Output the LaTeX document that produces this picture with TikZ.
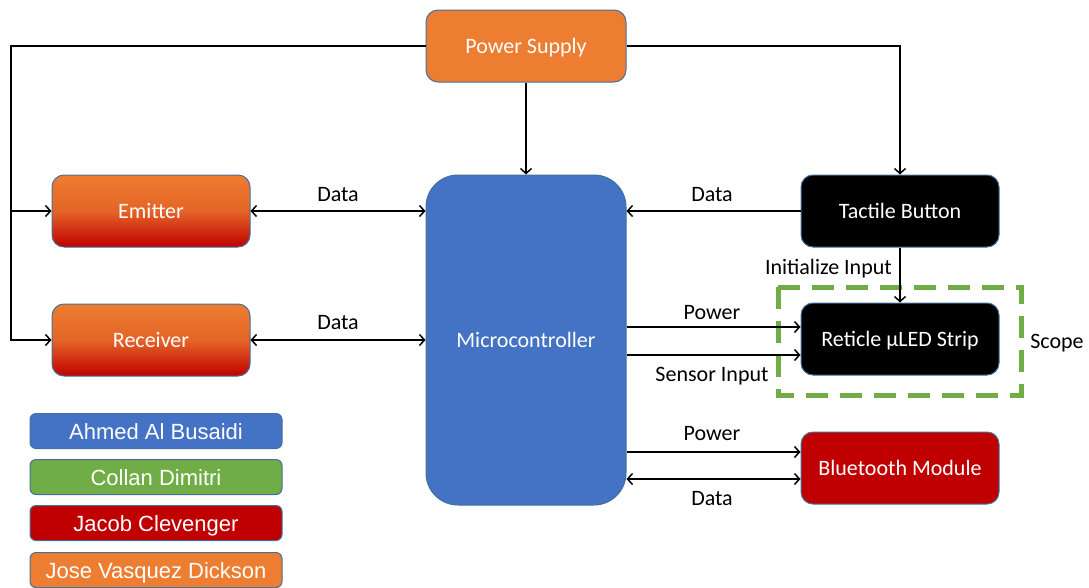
\documentclass[tikz,border=0pt]{standalone}
\usepackage{fontspec}
\setmainfont{Carlito}
\newfontfamily\arialf{Liberation Sans}
\usetikzlibrary{arrows.meta}
\definecolor{ppor}{HTML}{ED7D31}
\definecolor{ppbl}{HTML}{4472C4}
\definecolor{ppgr}{HTML}{70AD47}
\definecolor{pprd}{HTML}{C00000}
\definecolor{ppedge}{HTML}{41719C}
\tikzset{
  blk/.style={draw=ppedge, line width=1pt, rounded corners=12pt, minimum width=198pt, minimum height=72pt, text=white, font=\fontsize{22}{24}\selectfont, inner sep=0pt, text height=14pt, text depth=0pt},
  grad/.style={blk, top color=ppor, bottom color=pprd, middle color=ppor!80!pprd},
  legend/.style={draw=ppedge, line width=1pt, rounded corners=6pt, minimum width=252pt, minimum height=35pt, text=white, font=\arialf\fontsize{22}{24}\selectfont, inner sep=0pt, text height=16pt, text depth=0pt},
  conn/.style={line width=1.5pt, -{Straight Barb[length=5pt,width=11pt,line width=1.5pt]}},
  bconn/.style={line width=1.5pt, {Straight Barb[length=5pt,width=11pt,line width=1.5pt]}-{Straight Barb[length=5pt,width=11pt,line width=1.5pt]}},
  lbl/.style={font=\fontsize{22}{24}\selectfont, text=black, inner sep=0pt, text height=14pt, text depth=0pt}
}
\begin{document}
\begin{tikzpicture}[x=1pt,y=-1pt]
\useasboundingbox (0,0) rectangle (1089,587);
% dashed scope box
\draw[ppgr, line width=5pt, dash pattern=on 22pt off 12pt] (778,287) rectangle (1021,395);
% nodes
\node[blk, fill=ppor, minimum width=200pt] (ps) at (526,46) {Power Supply};
\node[grad] (em) at (151,211) {Emitter};
\node[grad] (rc) at (151,340) {Receiver};
\node[blk, fill=ppbl, minimum width=200pt, minimum height=330pt, rounded corners=32pt] (mc) at (526,340) {Microcontroller};
\node[blk, fill=black] (tb) at (900,211) {Tactile Button};
\node[blk, fill=black] (rl) at (900,339) {Reticle µLED Strip};
\node[blk, fill=pprd] (bt) at (900,468) {Bluetooth Module};
\node[lbl] (scope) at (1057,341) {Scope};
% legend
\node[legend, fill=ppbl] (l1) at (156,431) {Ahmed Al Busaidi};
\node[legend, fill=ppgr] (l2) at (156,477) {Collan Dimitri};
\node[legend, fill=pprd] (l3) at (156,523) {Jacob Clevenger};
\node[legend, fill=ppor] (l4) at (156,570) {Jose Vasquez Dickson};
% coordinates
\coordinate (lc) at (11,46);
\coordinate (lb) at (11,340);
\coordinate (lm) at (11,211);
\coordinate (rc1) at (900,46);
% connectors
\draw[conn] (ps.west) -- (lc) -- (lb) -- (rc.west);
\draw[conn] (lm) -- (em.west);
\draw[conn] (ps.east) -- (rc1) -- (tb.north);
\draw[conn] (ps.south) -- (mc.north);
\draw[bconn] (em.east) -- (em.east -| mc.west);
\draw[bconn] (rc.east) -- (rc.east -| mc.west);
\draw[conn] (tb.west) -- (tb.west -| mc.east);
\draw[conn] (tb.south) -- (rl.north);
\draw[conn] (mc.east |- 0,327) -- (rl.west |- 0,327);
\draw[conn] (mc.east |- 0,355) -- (rl.west |- 0,355);
\draw[conn] (mc.east |- 0,452) -- (bt.west |- 0,452);
\draw[bconn] (mc.east |- 0,479) -- (bt.west |- 0,479);
% labels
\node[lbl] (d1) at (338,194) {Data};
\node[lbl] (d2) at (338,322) {Data};
\node[lbl] (d3) at (712,194) {Data};
\node[lbl, anchor=east] (ii) at (892,267) {Initialize Input};
\node[lbl] (p1) at (712,312) {Power};
\node[lbl] (si) at (712,374) {Sensor Input};
\node[lbl] (p2) at (712,433) {Power};
\node[lbl] (d4) at (712,498) {Data};
\end{tikzpicture}
\end{document}
